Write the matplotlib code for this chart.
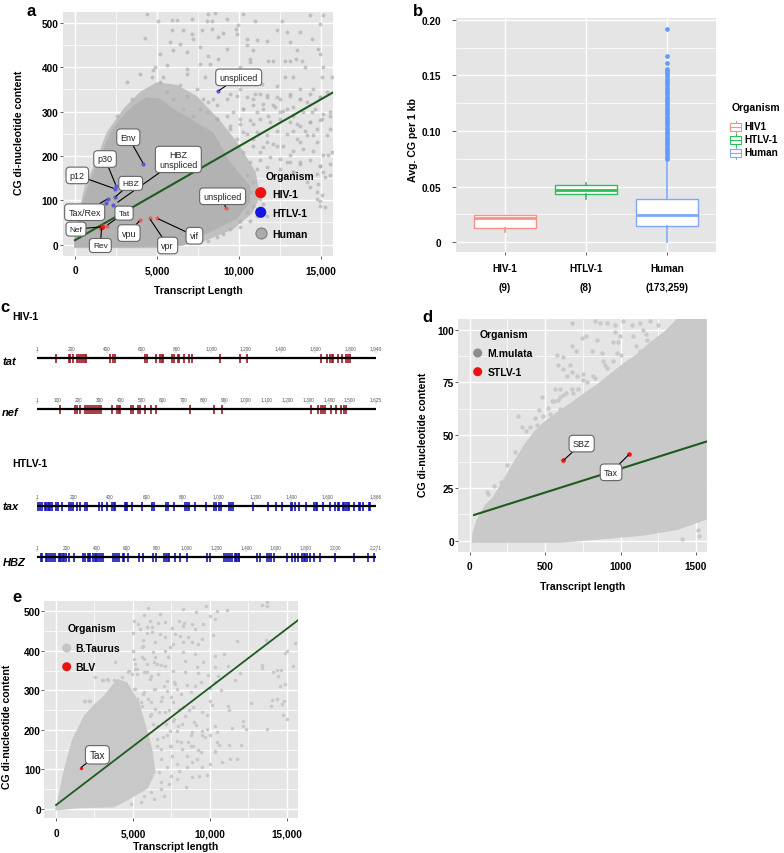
import matplotlib
matplotlib.use('Agg')
import matplotlib.pyplot as plt
from matplotlib.ticker import FixedLocator

plt.rcParams['font.family'] = ['Liberation Sans', 'DejaVu Sans']
plt.rcParams['font.weight'] = 'bold'

W, H = 784, 854
fig = plt.figure(figsize=(W / 100, H / 100), dpi=100)

############################ panel a data ############################
a_core_x = [-60, 0, 305, 750, 1220, 1730, 2235, 2845, 3560, 4370, 5180, 6000, 7000, 7620, 8436, 9452, 10672,
            10672, 9860, 8230, 6606, 3560]
a_core_y = [-6, 28, 80, 126, 171, 216, 257, 287, 314, 332, 329, 306, 285, 270, 253, 186, 133,
            95, 58, 28, -2, -6]
a_outer_x = [-60, 0, 305, 610, 1320, 1930, 2950, 3960, 4980, 6200, 7420, 8840, 10000, 11000, 11300,
             10800, 9660, 7830, 5590]
a_outer_y = [-8, 28, 85, 133, 193, 253, 306, 344, 366, 360, 335, 280, 225, 165, 110,
             70, 35, 7, -8]
a_human_x = [4370, 5082, 5895, 6200, 7115, 8130, 8538, 8030, 8335, 9250, 10225, 10978, 12605, 14332, 15105,
             9961, 9819, 9860, 5895, 6607, 7115, 7725, 8335, 8741, 9046, 12300, 12910, 13722, 14942, 4269,
             5794, 6404, 7217, 10470, 11080, 11690, 13112, 14434, 10470, 10835, 9250, 13519, 14840, 14942,
             5184, 5997, 6810, 7623, 8132, 8741, 10673, 10673, 11791, 12096, 12807, 13112, 13478, 13824,
             4879, 5590, 6810, 7623, 8233, 10063, 14027, 15145, 3964, 4676, 5387, 6810, 7928, 12807, 13316,
             15044, 15654, 12300, 13722, 11384, 9453, 10063, 10978, 11690, 12300, 13112, 14536, 10876, 11486,
             12198, 12909, 13722, 14129, 14942, 10266, 11080, 11791, 12503, 13316, 14434, 10063, 10876, 13519,
             14332, 15552, 15044, 14027, 14739, 15552, 13316, 15450, 14940, 13720, 14535, 13110, 12300, 15550,
             12900, 14740, 14940, 15150, 13320, 14130, 13720, 11280, 11690, 10880, 10270, 9450, 8640, 8030,
             7220, 6610, 7830, 6810, 8440, 6000, 5590, 7420, 6400, 5180, 4780, 3150, 3455, 2540]
a_human_y = [520, 503, 507, 507, 509, 520, 523, 505, 505, 509, 520, 503, 505, 518, 517,
             496, 487, 475, 483, 483, 475, 483, 487, 468, 478, 483, 479, 479, 498, 466,
             456, 453, 464, 464, 462, 459, 456, 464, 449, 438, 441, 438, 441, 430,
             430, 438, 434, 445, 426, 419, 419, 411, 415, 415, 415, 415, 419, 415,
             400, 404, 396, 408, 408, 400, 400, 400, 385, 378, 378, 385, 378, 378, 378,
             378, 378, 357, 351, 362, 340, 351, 340, 338, 332, 340, 351, 329, 317,
             310, 306, 329, 321, 332, 306, 299, 291, 299, 291, 299, 283, 272, 272,
             276, 299, 283, 257, 261, 261, 257, 201, 178, 231, 246, 201, 223, 156,
             186, 103, 88, 163, 163, 141, 186, 208, 231, 238, 253, 268, 284, 298,
             291, 306, 329, 336, 329, 329, 344, 351, 359, 366, 393, 366, 329, 291]
# edge of the cloud on the right hand side
a_edge_x = [7620, 8130, 8640, 9250, 9860, 10470, 11280, 11690, 12500, 13110, 13720, 14330, 14940, 15350, 8640, 9250,
            9660, 10270, 10870, 11490, 12100, 12700, 13310, 13930, 14640, 15140, 9450, 10060, 10670, 11280, 11890,
            12500, 13110, 13720, 14330, 14940, 15550, 9860, 10470, 11080, 11690, 12300, 12910, 13520, 14130, 14740,
            15350, 10270, 10870, 11490, 12100, 12700, 13310, 13930, 14530, 15140, 15650, 10670, 11280, 11890, 12500,
            13110, 13720, 14330, 14940, 15550, 11080, 11690, 12500, 13310, 14740, 15250, 10470, 10870, 14840, 14330,
            15040, 14740, 10670, 11280, 11490, 10870, 10470, 11080, 10060, 10670, 11690, 14940, 15250, 10060, 9450,
            9050, 8640, 8130]
a_edge_y = [306, 321, 314, 329, 336, 332, 340, 332, 329, 336, 329, 340, 332, 344, 284, 291,
            299, 306, 314, 306, 314, 302, 310, 299, 306, 295, 261, 272, 280, 284, 276,
            284, 276, 268, 276, 280, 291, 238, 250, 253, 246, 257, 250, 238, 246, 231,
            246, 208, 223, 220, 227, 223, 212, 216, 212, 201, 208, 186, 190, 197, 193,
            186, 182, 190, 178, 182, 171, 174, 171, 163, 159, 152, 156, 141, 137, 129,
            111, 118, 118, 103, 92, 88, 73, 65, 54, 54, 65, 99, 84, 39, 35,
            24, 17, 9]
a_line_x = [0, 15730]
a_line_y = [10, 343]
htlv_x = [4170, 8720, 2500, 2420, 2440, 2330, 1990, 1890]
htlv_y = [182, 346, 133, 126, 107, 90, 103, 94]
hiv_x = [1500, 1625, 1700, 1930, 3960, 4550, 5020, 9190]
hiv_y = [38, 40, 41, 43, 55, 59, 59, 82]

############################ panel b data ############################
box_names = ['HIV-1', 'HTLV-1', 'Human']
box_counts = ['(9)', '(8)', '(173,259)']
box_low = [0.0095, 0.039, 0.0]
box_q1 = [0.013, 0.043, 0.0145]
box_med = [0.0215, 0.047, 0.0245]
box_q3 = [0.0245, 0.0515, 0.039]
box_high = [0.0245, 0.053, 0.0745]
human_outliers = [0.075, 0.077, 0.079, 0.081, 0.083, 0.085, 0.087, 0.089, 0.091, 0.093, 0.095, 0.097, 0.099,
                  0.101, 0.103, 0.105, 0.107, 0.109, 0.111, 0.113, 0.115, 0.117, 0.119, 0.121, 0.123, 0.125,
                  0.127, 0.129, 0.131, 0.133, 0.135, 0.137, 0.139, 0.141, 0.143, 0.145, 0.147, 0.149, 0.151,
                  0.153, 0.155, 0.156, 0.161, 0.167, 0.192]

############################ panel c data ############################
tat_len = 1948
tat_sites = [108, 181, 191, 204, 231, 241, 252, 262, 273, 281, 421, 435, 448, 619, 632, 682, 705, 715, 724, 774, 784,
             809, 818, 845, 872, 891, 1054, 1167, 1209, 1633, 1668, 1681, 1693, 1702, 1731, 1750, 1775, 1787, 1800]
tat_ticks = [1, 200, 400, 600, 800, 1000, 1200, 1400, 1600, 1800, 1948]
nef_len = 1625
nef_sites = [108, 183, 191, 206, 231, 241, 251, 260, 268, 278, 287, 297, 307, 358, 383, 391, 399, 451, 460, 484, 492,
             518, 547, 569, 732, 847, 886, 1311, 1345, 1361, 1369, 1379, 1409, 1431, 1455, 1470, 1481]
nef_ticks = [1, 100, 200, 300, 400, 500, 600, 700, 800, 900, 1000, 1100, 1200, 1300, 1400, 1500, 1625]
tax_len = 1866
tax_sites = [7, 16, 25, 43, 51, 58, 65, 73, 80, 106, 113, 135, 176, 185, 196, 221, 238, 264, 273, 341, 356, 383, 414,
             422, 431, 482, 490, 497, 525, 580, 631, 646, 712, 719, 753, 813, 824, 837, 872, 929, 975, 986, 1004, 1012,
             1058, 1067, 1076, 1186, 1271, 1315, 1348, 1396, 1405, 1421, 1440, 1478, 1526, 1534, 1543, 1574, 1614, 1640,
             1655, 1664, 1682, 1691, 1701, 1710, 1719, 1743, 1771, 1780, 1794, 1826, 1835]
tax_ticks = [1, 200, 400, 600, 800, 1000, 1200, 1400, 1600, 1866]
hbz_len = 2271
hbz_sites = [23, 35, 57, 66, 79, 93, 108, 120, 144, 153, 162, 171, 180, 191, 216, 247, 310, 321, 339, 348, 354, 377,
             386, 395, 404, 413, 428, 444, 511, 522, 538, 551, 574, 585, 609, 681, 708, 779, 797, 853, 864, 876, 887,
             922, 958, 1007, 1137, 1160, 1253, 1267, 1280, 1294, 1307, 1323, 1332, 1341, 1350, 1354, 1473, 1495, 1540,
             1553, 1567, 1585, 1674, 1708, 1730, 1746, 1775, 1786, 1797, 1808, 1830, 1857, 1893, 1994, 2121, 2215, 2260]
hbz_ticks = [1, 200, 400, 600, 800, 1000, 1200, 1400, 1600, 1800, 2000, 2271]

############################ panel d data ############################
d_cloud_x = [13, 20, 46, 102, 157, 223, 289, 356, 430, 488, 580, 665, 760, 842, 930, 1018, 1120, 1195, 1290, 1372,
             1571, 1571, 1372, 1151, 930, 599]
d_cloud_y = [-1, 4, 10, 17, 21, 29, 37, 45, 52, 56, 61, 65, 70, 74, 79, 84, 89, 94, 99, 105,
             105, 10, 5, 2.4, 1, -1]
d_macaque_x = [676, 830, 863, 908, 963, 1018, 1073, 1129, 1195, 963, 996, 952, 985, 742, 771,
               841, 676, 705, 576, 621, 808, 875, 587, 621, 665, 676, 709, 643, 753, 886, 908, 952, 974, 1129, 1173,
               1084, 1151, 565, 598, 477, 543, 587, 621, 687,
               720, 775, 830, 322, 344, 400, 444, 488, 532, 598, 654, 720, 797, 863, 952, 1040, 113, 1405, 1520, 1515,
               430, 520, 600, 680, 750, 820, 900, 1000, 1100, 1170, 1250, 300, 250, 205, 160, 120, 370, 460, 560, 640]
d_macaque_y = [103, 104, 103, 103, 102, 104, 102, 103, 104, 99, 97, 94, 94, 96, 97,
               95, 92, 90, 88, 87, 90, 89, 83, 81.5, 83, 80, 78, 78, 79, 85, 82, 85, 89, 90, 95,
               97, 100, 72, 72, 68, 66, 66.5, 69, 70,
               72, 75, 77, 59, 54, 54, 55, 59, 60, 62.5, 63, 64, 66.5, 70, 74, 80, 23, 1, 2, 5,
               58, 63, 68, 72, 76, 78, 83, 88, 92, 98, 102, 42, 36, 28, 26, 22, 52, 62, 66, 70]
d_line_x = [29, 1571]
d_line_y = [12.2, 47]
stlv_x = [621, 1058]
stlv_y = [38, 41]

############################ panel e data ############################
e_cloud_x = [-65, 43, 520, 1060, 1820, 2500, 3120, 3990, 4640, 5400, 5720, 6260, 6480, 5940, 4420, 3770, 1500, 0]
e_cloud_y = [-4, 13, 101, 177, 236, 265, 287, 329, 320, 270, 228, 152, 93, 51, 17, 4, 2, -4]
e_cow_x = [6000, 8280, 9750, 9100, 10490, 11100, 10010, 10340, 13370, 13700, 13740, 5720, 6760, 5070, 5350, 6110, 6650,
           7090, 8020, 8320, 8820, 9580, 8280, 7520, 5460, 5890, 6220, 5030, 5890, 6220, 6760, 7090, 7740, 8060, 8600,
           9040, 10230, 9470, 11740, 13650, 15540, 5680, 6440, 7630, 7410, 8280, 8820, 9250, 5030, 5570, 6330, 7090,
           8280, 9040, 10340, 10940, 14990, 14890, 5570, 6440, 7300, 8390, 9530, 5140, 5890, 6540, 7090, 9140, 10340,
           11200, 13370, 13410, 15430, 14350, 14610, 7630, 8390, 9250, 9900, 10550, 11960, 14080, 14450, 11640, 5240,
           5890, 6650, 6110, 7190, 7740, 8500, 9040, 10010, 10700, 10340, 14890, 14560, 5140, 5680, 6440, 7190, 7840,
           6870, 6000, 7630, 5240, 10010, 10120, 11200, 11270, 12680, 14020, 14350, 13980, 14820, 14670, 5570, 6440,
           7090, 8280, 8930, 9470, 9840, 14780, 15040, 6110, 5460, 7630, 8390, 12180, 12180, 12330, 13700, 10340, 9080,
           11420, 6330, 7410, 7950, 8820, 9470, 10010, 9690, 10490, 5890, 6980, 7850, 8600, 8930, 10440, 10620, 11270,
           12000, 6540, 7410, 8170, 9250, 10340, 10340, 10770, 11310, 11740, 8820, 9470, 10010, 3840, 2540, 3080, 3400,
           1890, 2210, 4700, 5140, 5680, 5030,
           2150, 1820, 3010, 3340, 3770, 4310, 4960, 4750, 5290, 5720, 6150, 5720, 6370, 6800, 5070, 4530, 5070, 5720,
           6370, 7020, 7670, 5500, 6150, 6800, 7450, 8100, 8750, 9400, 6150, 6700, 7350, 8000, 8650, 7670, 8210, 8970,
           9840, 6590, 7130, 6590, 7240, 7890, 8750, 9510, 6800, 7450, 8100, 8750, 9400, 6800, 7560, 8540, 9190, 6700,
           7240, 7890, 8540, 8860, 9840, 9300, 6800, 7450, 7990, 6150, 6800, 7350, 6370, 5500, 7890, 8430, 5720, 7020,
           4850]
e_cow_y = [507, 506, 512, 499, 501, 503, 487, 480, 516, 512, 523, 491, 493, 476, 468, 476, 470,
           472, 476, 470, 468, 468, 462, 457, 455, 459, 459, 445, 445, 447, 442, 434, 442, 438, 434,
           455, 440, 430, 424, 426, 419, 426, 421, 417, 409, 421, 421, 417, 400, 409, 396, 400,
           396, 392, 388, 392, 400, 394, 383, 383, 383, 375, 371, 367, 367, 367, 362, 358, 358,
           362, 365, 356, 361, 352, 352, 350, 346, 344, 339, 335, 344, 347, 335, 326, 341,
           346, 341, 329, 324, 316, 313, 310, 305, 302, 320, 316, 310, 303, 291, 303, 299, 303,
           282, 278, 270, 278, 274, 263, 261, 250, 268, 276, 278, 260, 274, 265, 261, 253,
           244, 257, 257, 244, 238, 238, 228, 236, 228, 223, 236, 223, 211, 202, 201, 211, 212,
           204, 215, 198, 211, 194, 198, 187, 181, 195, 185, 181, 173, 170, 160, 169, 162, 163,
           162, 160, 160, 152, 150, 147, 143, 120, 126, 126, 118, 105, 114, 371, 333, 325, 326,
           274, 274, 346, 354, 413, 400,
           274, 274, 325, 329, 325, 333, 341, 350, 354, 346, 337, 379, 371, 363, 379, 312, 304, 295,
           304, 312, 320, 270, 270, 274, 282, 291, 295, 320, 240, 245, 249, 253, 249, 228, 215, 219,
           202, 211, 215, 177, 186, 198, 186, 186, 152, 160, 169, 160, 143, 127, 135, 135, 127, 93,
           105, 114, 105, 80, 86, 84, 67, 84, 97, 42, 51, 63, 25, 17, 76, 55, 34, 34,
           13]
e_line_x = [0, 15730]
e_line_y = [10, 477]
blv_x = [1600]
blv_y = [104]


############################ helpers ############################
def px_axes(left, top, right, bottom):
    return fig.add_axes([left / W, 1 - bottom / H, (right - left) / W, (bottom - top) / H])


def px_text(x, y, s, **kw):
    kw.setdefault('ha', 'center')
    kw.setdefault('va', 'center')
    kw.setdefault('fontsize', 7.6)
    fig.text(x / W, 1 - y / H, s, **kw)


def gg_style(ax, xmajor, xminor, ymajor, yminor, xlabels, ylabels, padx, pady):
    ax.set_facecolor('#E5E5E5')
    ax.set_axisbelow(True)
    for s in ax.spines.values():
        s.set_visible(False)
    ax.xaxis.set_major_locator(FixedLocator(xmajor))
    ax.xaxis.set_minor_locator(FixedLocator(xminor))
    ax.yaxis.set_major_locator(FixedLocator(ymajor))
    ax.yaxis.set_minor_locator(FixedLocator(yminor))
    ax.grid(True, which='major', color='white', lw=1.0)
    ax.grid(True, which='minor', color='white', lw=0.5)
    ax.tick_params(which='minor', length=0)
    ax.tick_params(axis='x', which='major', length=2, width=0.6, color='#444444', pad=padx, labelsize=7.2)
    ax.tick_params(axis='y', which='major', length=2, width=0.6, color='#444444', pad=pady, labelsize=7.2)
    ax.set_xticklabels(xlabels)
    ax.set_yticklabels(ylabels)


def tag(ax, s, xy, xytext, fs=6.5):
    ax.annotate(s, xy=xy, xytext=xytext, ha='center', va='center', fontsize=fs, fontweight='normal',
                color='#222222', zorder=8, linespacing=1.1,
                bbox=dict(boxstyle='round,pad=0.42', fc='white', ec='#666666', lw=0.8),
                arrowprops=dict(arrowstyle='-', color='black', lw=0.8, shrinkA=0, shrinkB=1))


def legend_dot(x, y, c, r=8, ec='none'):
    over.scatter([x], [y], s=r ** 2, c=c, edgecolors=ec, linewidths=0.7, zorder=10)


########################################## a ###########################################
ax = px_axes(62.7, 12.7, 333, 256.7)
ax.fill(a_outer_x, a_outer_y, color='#C0C0C0', lw=0, zorder=2)
ax.fill(a_core_x, a_core_y, color='#B2B2B2', lw=0, zorder=2)
ax.scatter(a_human_x, a_human_y, s=8, c='#B0B0B0', alpha=0.7, linewidths=0, zorder=3)
ax.scatter(a_edge_x, a_edge_y, s=8, c='#B0B0B0', alpha=0.7, linewidths=0, zorder=3)
ax.plot(a_line_x, a_line_y, color='#1E5B1E', lw=1.5, zorder=5)
ax.scatter(htlv_x, htlv_y, s=9, c='#5A5AD8', linewidths=0, zorder=6)
ax.scatter(hiv_x, hiv_y, s=9, c='#E06060', linewidths=0, zorder=6)
ax.scatter([1625], [40], s=14, c='#E0201A', linewidths=0, zorder=6)
ax.set_xlim(-750, 15730)
ax.set_ylim(-25, 525)
gg_style(ax, [0, 5000, 10000, 15000], [2500, 7500, 12500], [0, 100, 200, 300, 400, 500],
         [50, 150, 250, 350, 450], ['0', '5,000', '10,000', '15,000'], ['0', '100', '200', '300', '400', '500'], 5, 1)
tag(ax, 'Env', (4170, 182), (3250, 242))
tag(ax, 'HBZ\nunspliced', (2540, 94), (6300, 192))
tag(ax, 'p30', (2500, 133), (1830, 193))
tag(ax, 'HBZ', (2440, 107), (3395, 138), fs=6)
tag(ax, 'p12', (2420, 126), (140, 156))
tag(ax, 'Tax/Rex', (1990, 103), (590, 73))
tag(ax, 'Tat', (1930, 43), (2990, 71), fs=6)
tag(ax, 'Nef', (1625, 40), (60, 35), fs=6)
tag(ax, 'Rev', (1625, 40), (1545, -2), fs=6)
tag(ax, 'vpu', (3960, 55), (3290, 26))
tag(ax, 'vpr', (4550, 59), (5650, -2))
tag(ax, 'vif', (5020, 59), (7280, 20))
tag(ax, 'unspliced', (9190, 82), (9000, 109))
tag(ax, 'unspliced', (8720, 346), (9980, 377))
px_text(198, 290.7, 'Transcript Length')
px_text(19, 133, 'CG di-nucleotide content', rotation=90)

########################################## b ###########################################
ax = px_axes(456, 19.3, 715.7, 253.3)
box_colors = ['#F8908A', '#2DBE5A', '#7FA8F5']
stats = []
for i in range(3):
    stats.append(dict(whislo=box_low[i], q1=box_q1[i], med=box_med[i], q3=box_q3[i], whishi=box_high[i],
                      fliers=human_outliers if i == 2 else []))
for i in range(3):
    c = box_colors[i]
    ax.bxp([stats[i]], positions=[i + 1], widths=0.76, showcaps=False, patch_artist=True, manage_ticks=False,
           boxprops=dict(facecolor='white', edgecolor=c, lw=1.0),
           medianprops=dict(color=c, lw=2.0), whiskerprops=dict(color=c, lw=1.2),
           flierprops=dict(marker='o', ms=3.4, mfc='#619CFF', mec='none'), zorder=3)
ax.set_xlim(0.4, 3.6)
ax.set_ylim(-0.009, 0.2013)
gg_style(ax, [1, 2, 3], [], [0, 0.05, 0.10, 0.15, 0.20], [0.025, 0.075, 0.125, 0.175],
         [box_names[i] + '\n' + box_counts[i] for i in range(3)], ['0', '0.05', '0.10', '0.15', '0.20'], 6, 8)
ax.tick_params(axis='y', length=2.6)
for lab in ax.get_xticklabels():
    lab.set_linespacing(2.1)
px_text(412.7, 140, 'Avg. CG per 1 kb', rotation=90)

########################################## c ###########################################
rows = [('tat', tat_len, tat_sites, tat_ticks, 359.3, '#A01822', 361.7, 2.3),
        ('nef', nef_len, nef_sites, nef_ticks, 410.3, '#A01822', 412.7, 2.3),
        ('tax', tax_len, tax_sites, tax_ticks, 507.3, '#1515C0', 507.5, 2.3),
        ('HBZ', hbz_len, hbz_sites, hbz_ticks, 558.3, '#1515C0', 562.7, 3)]
for name, length, sites, ticks, yc, col, ylab, xlab in rows:
    ax = px_axes(37.3, yc - 5, 376, yc + 5)
    ax.patch.set_visible(False)
    ax.vlines(sites, -0.92, 0.92, color=col, lw=1.2)
    ax.plot([1, length], [0, 0], color='black', lw=1.6)
    ax.set_xlim(1, length)
    ax.set_ylim(-1, 1)
    ax.set_yticks([])
    for s in ax.spines.values():
        s.set_visible(False)
    ax.xaxis.tick_top()
    ax.set_xticks(ticks)
    ax.set_xticklabels(['{:,}'.format(t) for t in ticks], fontsize=3.4, fontweight='normal', color='#555555')
    ax.tick_params(axis='x', length=1.5, width=0.3, color='#777777', pad=0.5)
    px_text(xlab, ylab, name, ha='left', style='italic', fontsize=8)
px_text(12.7, 317, 'HIV-1', ha='left')
px_text(12.7, 464.3, 'HTLV-1', ha='left')

########################################## d ###########################################
ax = px_axes(458.3, 320, 706.7, 552.7)
ax.fill(d_cloud_x, d_cloud_y, color='#C9C9C9', lw=0, zorder=2)
ax.scatter(d_macaque_x, d_macaque_y, s=10, c='#C9C9C9', linewidths=0, zorder=3)
ax.plot(d_line_x, d_line_y, color='#1E5B1E', lw=1.5, zorder=5)
ax.scatter(stlv_x, stlv_y, s=11, c='#EE1111', linewidths=0, zorder=6)
ax.set_xlim(-75.5, 1571)
ax.set_ylim(-5.2, 105)
gg_style(ax, [0, 500, 1000, 1500], [250, 750, 1250], [0, 25, 50, 75, 100], [12.5, 37.5, 62.5, 87.5],
         ['0', '500', '1000', '1500'], ['0', '25', '50', '75', '100'], 5, 1)
tag(ax, 'SBZ', (621, 38), (742, 46))
tag(ax, 'Tax', (1058, 41), (937, 32.4))
px_text(582.7, 586.7, 'Transcript length')
px_text(423, 435, 'CG di-nucleotide content', rotation=90)

########################################## e ###########################################
ax = px_axes(44.3, 602.3, 297.7, 819.3)
ax.fill(e_cloud_x, e_cloud_y, color='#C8C8C8', lw=0, zorder=2)
ax.scatter(e_cow_x, e_cow_y, s=6.5, c='#C8C8C8', linewidths=0, zorder=3)
ax.plot(e_line_x, e_line_y, color='#1E5B1E', lw=1.3, zorder=5)
ax.scatter(blv_x, blv_y, s=6, c='#EE1111', linewidths=0, zorder=6)
ax.set_xlim(-760, 15715)
ax.set_ylim(-23.5, 525)
gg_style(ax, [0, 5000, 10000, 15000], [2500, 7500, 12500], [0, 100, 200, 300, 400, 500],
         [50, 150, 250, 350, 450], ['0', '5,000', '10,000', '15,000'], ['0', '100', '200', '300', '400', '500'], 5, 0.5)
tag(ax, 'Tax', (1600, 104), (2690, 137), fs=7.2)
px_text(175.7, 846.7, 'Transcript length')
px_text(7.3, 726.7, 'CG di-nucleotide content', rotation=90)

###################################### legends, letters ################################
over = fig.add_axes([0, 0, 1, 1])
over.set_xlim(0, W)
over.set_ylim(H, 0)
over.axis('off')
over.patch.set_visible(False)

legend_dot(260.7, 193.7, '#EE1111')
legend_dot(260.7, 213.3, '#1515E0')
legend_dot(260.7, 234, '#AAAAAA', ec='#777777')
px_text(290, 176.7, 'Organism', fontsize=7.5)
for y, s in [(194.5, 'HIV-1'), (214, 'HTLV-1'), (234.5, 'Human')]:
    px_text(272.7, y, s, ha='left', fontsize=7.5)

# b legend keys
for y, c, s in [(127.7, box_colors[0], 'HIV1'), (141, box_colors[1], 'HTLV-1'), (154, box_colors[2], 'Human')]:
    over.add_patch(plt.Rectangle((730, y - 4), 11.5, 8, fc='white', ec=c, lw=0.8, zorder=10))
    over.plot([730, 741.5], [y, y], color=c, lw=0.8, zorder=11)
    over.plot([735.7, 735.7], [y - 6, y - 4], color=c, lw=0.8, zorder=11)
    over.plot([735.7, 735.7], [y + 4, y + 6], color=c, lw=0.8, zorder=11)
    px_text(744, y - 1, s, ha='left', fontsize=7.2)
px_text(756, 108, 'Organism', fontsize=7.5)

legend_dot(477.7, 354, '#8C8C8C', r=6.5)
legend_dot(477.7, 372.7, '#EE1111', r=6.5)
px_text(504.3, 335, 'Organism', fontsize=7.5)
px_text(487.3, 354, 'M.mulata', ha='left', fontsize=7.5)
px_text(487.3, 372.7, 'STLV-1', ha='left', fontsize=7.5)

legend_dot(66.7, 649, '#C4C4C4', r=6.5)
legend_dot(66.7, 667.7, '#EE1111', r=6.5)
px_text(92.3, 629.3, 'Organism', fontsize=7.5)
px_text(75, 649, 'B.Taurus', ha='left', fontsize=7.5)
px_text(75, 667.7, 'BLV', ha='left', fontsize=7.5)

for x, y, s in [(31, 11, 'a'), (417.7, 11, 'b'), (5, 308, 'c'), (427.3, 317, 'd'), (16.7, 598, 'e')]:
    px_text(x, y, s, fontsize=12)

plt.savefig('out.png', dpi=100)
